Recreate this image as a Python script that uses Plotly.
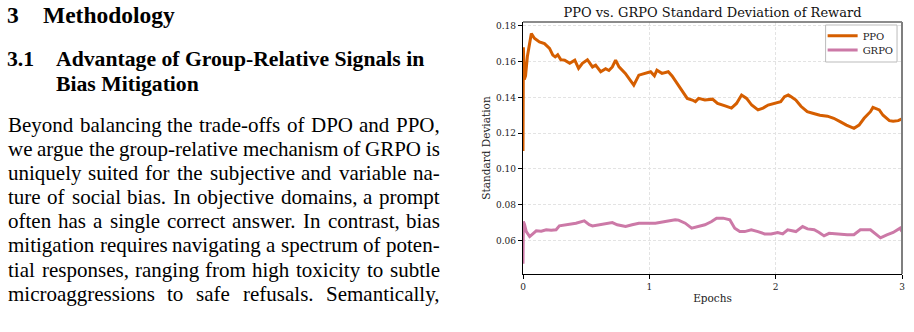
import plotly.graph_objects as go

# ---------------- data ----------------
ppo_epochs = [0.0, 0.003, 0.01, 0.02, 0.035, 0.05, 0.066, 0.09, 0.13, 0.17, 0.21, 0.236, 0.255,
              0.275, 0.3, 0.33, 0.37, 0.41, 0.44, 0.47, 0.51, 0.55, 0.575, 0.615, 0.654, 0.68,
              0.707, 0.733, 0.76, 0.81, 0.85, 0.877, 0.917, 0.97, 1.01, 1.04, 1.06, 1.1, 1.15,
              1.18, 1.22, 1.26, 1.3, 1.34, 1.365, 1.39, 1.44, 1.5, 1.54, 1.6, 1.65, 1.69, 1.73,
              1.77, 1.81, 1.86, 1.9, 1.94, 1.99, 2.04, 2.07, 2.1, 2.12, 2.16, 2.2, 2.25, 2.3,
              2.35, 2.41, 2.46, 2.51, 2.56, 2.62, 2.66, 2.7, 2.75, 2.77, 2.82, 2.85, 2.9, 2.93,
              2.97, 3.0]
ppo_std = [0.110, 0.168, 0.150, 0.152, 0.163, 0.170, 0.1757, 0.173, 0.171, 0.170, 0.1674, 0.1636,
           0.1626, 0.1638, 0.161, 0.1608, 0.159, 0.1608, 0.1562, 0.159, 0.161, 0.157, 0.158,
           0.1543, 0.156, 0.155, 0.157, 0.1608, 0.157, 0.1534, 0.1497, 0.1468, 0.1524, 0.1534,
           0.1543, 0.152, 0.1552, 0.1534, 0.1543, 0.152, 0.1478, 0.144, 0.1394, 0.1385, 0.1376,
           0.1394, 0.1385, 0.139, 0.1366, 0.1352, 0.134, 0.1366, 0.1413, 0.1394, 0.1357, 0.133,
           0.134, 0.1357, 0.1366, 0.1376, 0.1404, 0.1413, 0.1404, 0.1385, 0.135, 0.132, 0.131,
           0.130, 0.1295, 0.1283, 0.1264, 0.1245, 0.1227, 0.1245, 0.1283, 0.132, 0.1344, 0.133,
           0.130, 0.127, 0.1267, 0.127, 0.128]

grpo_epochs = [0.0, 0.003, 0.012, 0.026, 0.053, 0.079, 0.105, 0.144, 0.184, 0.223, 0.262, 0.288,
               0.341, 0.419, 0.485, 0.524, 0.55, 0.603, 0.655, 0.707, 0.746, 0.812, 0.864, 0.917,
               0.995, 1.048, 1.126, 1.205, 1.231, 1.284, 1.335, 1.388, 1.44, 1.493, 1.532, 1.584,
               1.637, 1.676, 1.716, 1.755, 1.807, 1.86, 1.912, 1.964, 2.016, 2.056, 2.095, 2.16,
               2.213, 2.252, 2.305, 2.344, 2.383, 2.423, 2.462, 2.514, 2.566, 2.619, 2.67, 2.75,
               2.79, 2.83, 2.88, 2.93, 2.985, 3.0]
grpo_std = [0.047, 0.0706, 0.069, 0.065, 0.0622, 0.064, 0.0654, 0.0652, 0.066, 0.0658, 0.066,
            0.0682, 0.0688, 0.0697, 0.071, 0.0688, 0.0682, 0.0688, 0.0693, 0.070, 0.0688, 0.0678,
            0.0688, 0.0697, 0.0697, 0.0697, 0.0706, 0.0716, 0.0714, 0.0697, 0.0669, 0.0678,
            0.0688, 0.0706, 0.0725, 0.0725, 0.0716, 0.0669, 0.065, 0.065, 0.066, 0.065, 0.0637,
            0.0637, 0.0645, 0.0637, 0.066, 0.065, 0.0678, 0.0665, 0.066, 0.0645, 0.0626, 0.064,
            0.0637, 0.0637, 0.0632, 0.0632, 0.066, 0.066, 0.064, 0.0615, 0.0632, 0.0645, 0.0669,
            0.065]

series_names = ["PPO", "GRPO"]
x_ticks = [0, 1, 2, 3]
y_ticks = [0.06, 0.08, 0.10, 0.12, 0.14, 0.16, 0.18]
chart_title = "PPO vs. GRPO Standard Deviation of Reward"
x_title = "Epochs"
y_title = "Standard Deviation"

section_number = "3"
section_title = "Methodology"
subsection_number = "3.1"
subsection_lines = ["Advantage of Group-Relative Signals in", "Bias Mitigation"]
body_lines = [
    "Beyond balancing the trade-offs of DPO and PPO,",
    "we argue the group-relative mechanism of GRPO is",
    "uniquely suited for the subjective and variable na-",
    "ture of social bias. In objective domains, a prompt",
    "often has a single correct answer. In contrast, bias",
    "mitigation requires navigating a spectrum of poten-",
    "tial responses, ranging from high toxicity to subtle",
    "microaggressions to safe refusals. Semantically,",
]

# ---------------- layout helpers ----------------
W, H = 914, 332
ML, MR, MT, MB = 523, 9, 22, 58
PW, PH = W - ML - MR, H - MT - MB


def pxx(x):
    return (x - ML) / PW


def pxy(y):
    return (H - MB - y) / PH


SERIF = "DejaVu Serif"
TIMES = "Liberation Serif"
# Times-Roman advance widths (per 1000 em) -- Liberation Serif is metric compatible
TW = {' ': 250, ',': 250, '.': 250, '-': 333,
      'a': 444, 'b': 500, 'c': 444, 'd': 500, 'e': 444, 'f': 333, 'g': 500, 'h': 500,
      'i': 278, 'j': 278, 'k': 500, 'l': 278, 'm': 778, 'n': 500, 'o': 500, 'p': 500,
      'q': 500, 'r': 333, 's': 389, 't': 278, 'u': 500, 'v': 500, 'w': 722, 'x': 500,
      'y': 500, 'z': 444, 'B': 667, 'D': 722, 'G': 722, 'I': 333, 'O': 722, 'P': 556,
      'R': 667, 'S': 556}


def tw(s, fs):
    return sum(TW.get(c, 500) for c in s) / 1000.0 * fs


fig = go.Figure()
fig.add_trace(go.Scatter(x=ppo_epochs, y=ppo_std, mode="lines", name=series_names[0],
                         line=dict(color="#D55E00", width=3), legend="legend"))
fig.add_trace(go.Scatter(x=grpo_epochs, y=grpo_std, mode="lines", name=series_names[1],
                         line=dict(color="#CC79A7", width=3), legend="legend2"))

annotations = []
X_SHIFT = -4  # annotation text starts a few px right of its anchor


def add_text(x, baseline, text, fs, bold=False):
    annotations.append(dict(
        x=pxx(x + X_SHIFT), y=pxy(baseline - 0.34 * fs), xref="paper", yref="paper",
        xanchor="left", yanchor="middle", showarrow=False, borderpad=0, borderwidth=0,
        text=("<b>%s</b>" % text) if bold else text,
        font=dict(family=TIMES, size=fs, color="#000000")))


# headings
add_text(7.3, 22.7, section_number, 23.5, True)
add_text(42.7, 22.7, section_title, 23.5, True)
add_text(7.3, 66, subsection_number, 21.7, True)
add_text(56, 66, subsection_lines[0], 21.7, True)
add_text(56, 91, subsection_lines[1], 21.7, True)

# justified body text
BODY_FS = 21
LEFT, RIGHT = 8, 443
base0, step = 132.3, 24.06
for i, line in enumerate(body_lines):
    words = line.split()
    widths = [tw(w, BODY_FS) for w in words]
    gap = (RIGHT - LEFT - sum(widths)) / (len(words) - 1)
    x = LEFT
    for w, wd in zip(words, widths):
        add_text(x, base0 + i * step, w, BODY_FS)
        x += wd + gap

legend_common = dict(xanchor="left", yanchor="top", bgcolor="rgba(0,0,0,0)",
                     borderwidth=0, font=dict(family=SERIF, size=10, color="#222222"),
                     itemwidth=30, tracegroupgap=0)

fig.update_layout(
    width=W, height=H,
    margin=dict(l=ML, r=MR, t=MT, b=MB, pad=0),
    paper_bgcolor="white", plot_bgcolor="white",
    font=dict(family=SERIF, color="#222222"),
    title=dict(text=chart_title, x=pxx(714), xanchor="center", xref="paper",
               y=1 - 12.5 / H, yanchor="middle", yref="container",
               font=dict(family=SERIF, size=13, color="#111111")),
    showlegend=True,
    legend=dict(x=pxx(825), y=pxy(21.2), **legend_common),
    legend2=dict(x=pxx(825), y=pxy(35.5), **legend_common),
    annotations=annotations,
    shapes=[
        dict(type="rect", xref="paper", yref="paper", x0=pxx(828), x1=pxx(900),
             y0=pxy(62), y1=pxy(25), fillcolor="white",
             line=dict(color="#bbbbbb", width=1), layer="above"),
        dict(type="line", xref="paper", yref="paper", x0=0, x1=1, y0=1, y1=1,
             line=dict(color="#666666", width=1.5), layer="above"),
        dict(type="line", xref="paper", yref="paper", x0=1, x1=1, y0=0, y1=1,
             line=dict(color="#7f7f7f", width=2), layer="above"),
    ],
)

fig.update_xaxes(range=[0, 3], tickvals=x_ticks, ticktext=[str(v) for v in x_ticks],
                 showline=True, linecolor="#000000", linewidth=1.3,
                 ticks="outside", ticklen=4, tickwidth=1, tickcolor="#000000",
                 showgrid=True, gridcolor="#e3e3e3", gridwidth=1, griddash="3px,2px",
                 zeroline=False, tickfont=dict(family=SERIF, size=9, color="#222222"),
                 title=dict(text=x_title, standoff=3,
                            font=dict(family=SERIF, size=10.5, color="#222222")))
fig.update_yaxes(range=[0.0413, 0.1821], tickvals=y_ticks,
                 ticktext=["%.2f" % v for v in y_ticks],
                 showline=True, linecolor="#000000", linewidth=1.3,
                 ticks="outside", ticklen=4, tickwidth=1, tickcolor="#000000",
                 showgrid=True, gridcolor="#e3e3e3", gridwidth=1, griddash="3px,2px",
                 zeroline=False, tickfont=dict(family=SERIF, size=9, color="#222222"),
                 title=dict(text=y_title, standoff=3,
                            font=dict(family=SERIF, size=10.5, color="#222222")))

fig.write_html("out.html")
